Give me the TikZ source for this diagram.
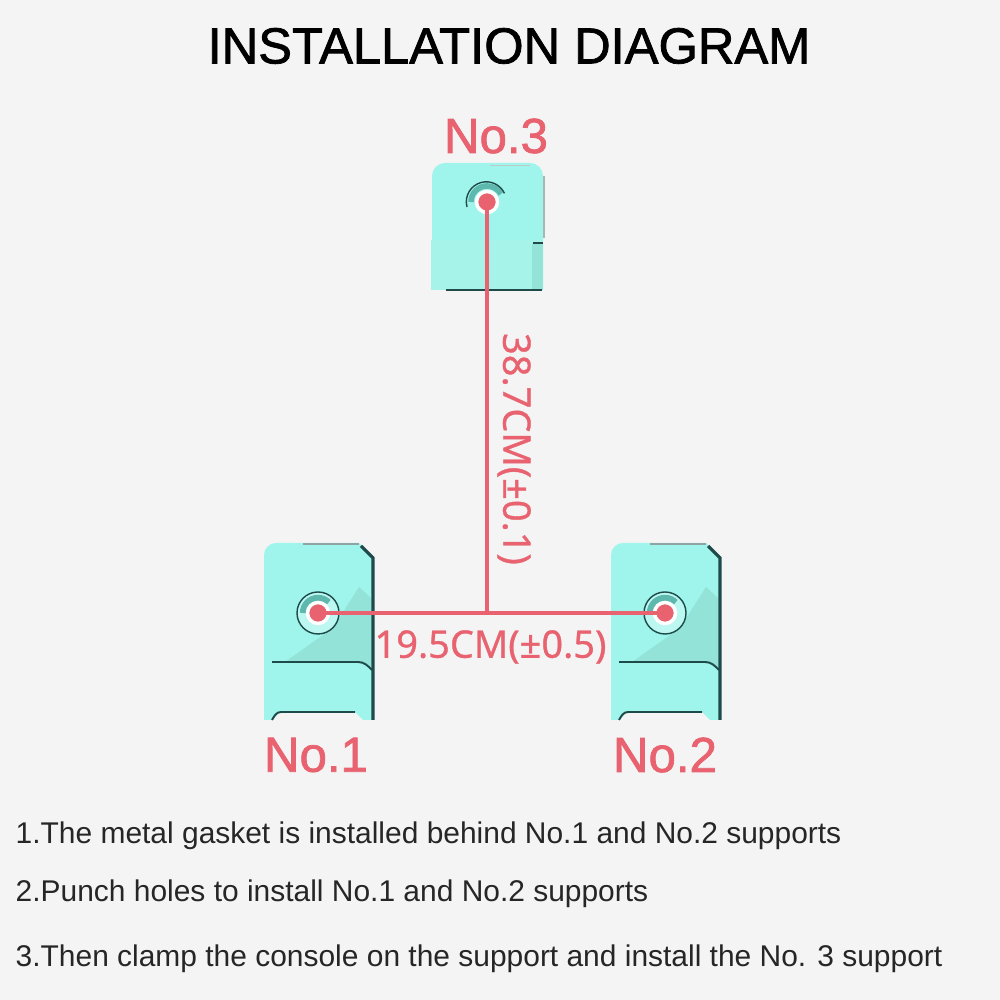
\documentclass[tikz,border=0pt]{standalone}
\usepackage{fontspec}
\setmainfont{Liberation Sans}
\newfontfamily\markfont[FakeBold=1.5]{Liberation Sans}
\newfontfamily\sizefont[FakeBold=0.8]{Noto Sans}
\usepackage{xcolor}
\usetikzlibrary{positioning, calc}

\definecolor{mintbody}{HTML}{9FF5EB}
\definecolor{mintpale}{HTML}{A6F3EA}
\definecolor{mintshade}{HTML}{93E3D8}
\definecolor{mintring}{HTML}{5FB8AE}
\definecolor{darkedge}{HTML}{1F4A4A}
\definecolor{pinkmark}{HTML}{E8626F}
\definecolor{paper}{HTML}{F4F4F4}

\tikzset{
    marklabel/.style={text=pinkmark, font=\markfont\fontsize{14pt}{16pt}\selectfont, inner sep=0pt},
    sizelabel/.style={text=pinkmark, font=\sizefont\fontsize{10.8pt}{12pt}\selectfont, inner sep=0pt},
    stepline/.style={anchor=west, font=\fontsize{8.52pt}{10pt}\selectfont, inner sep=0pt, text=black!85},
    holedot/.style={circle, fill=pinkmark, draw=white, line width=1pt, minimum size=2.1mm, inner sep=0pt},
    sizeline/.style={draw=pinkmark, line width=1.4pt},
    edgeline/.style={draw=darkedge, line width=0.55pt},
    ringline/.style={draw=darkedge, line width=0.4pt}
}

\begin{document}
\begin{tikzpicture}
\useasboundingbox (0,0) rectangle (10,10);
\fill[paper] (0,0) rectangle (10,10);

% Title
\node[inner sep=0pt, font=\markfont\fontsize{14.4pt}{16pt}\selectfont, text=black] (title) at (5.09,9.54) {INSTALLATION DIAGRAM};

% Upper support
\fill[mintbody] (4.32,7.1) -- (4.32,8.24) arc (180:90:0.13) -- (5.3,8.37) arc (90:0:0.13) -- (5.43,7.1) -- cycle;
\fill[mintpale] (4.31,7.1) rectangle (5.43,7.6);
\fill[mintshade] (5.32,7.1) rectangle (5.43,7.56);
\draw[edgeline] (5.33,7.57) -- (5.43,7.57);
\draw[edgeline] (4.46,7.1) -- (5.42,7.1);
\draw[darkedge!40, line width=0.3pt] (5.44,8.24) -- (5.44,7.62);
\draw[darkedge!30, line width=0.25pt] (4.9,8.35) -- (5.3,8.35);
\draw[mintring, line width=1.6pt] (4.71,7.98) arc (180:30:0.16);
\draw[ringline] (4.67,7.93) arc (195:25:0.2);

% Lower supports
\foreach \x in {2.63,6.1}{
    \begin{scope}[shift={(\x,0)}]
    \fill[mintbody] (0.01,2.8) -- (0.01,4.45) arc (180:90:0.12) -- (0.96,4.57) -- (1.1,4.44) -- (1.1,2.8)
        -- (1,2.8) -- (0.92,2.88) -- (0.17,2.88) -- (0.09,2.8) -- cycle;
    \fill[mintshade] (0.22,3.38) -- (0.7,3.72) -- (0.96,4.13) -- (1.08,4.02) -- (1.08,3.32) -- (0.95,3.38) -- cycle;
    \draw[edgeline] (0.09,3.38) -- (0.95,3.38) to[out=0,in=135] (1.09,3.3);
    \draw[edgeline, line width=0.9pt] (1.1,2.8) -- (1.1,4.42) -- (0.98,4.54);
    \draw[edgeline] (0.09,2.8) to[out=60,in=180] (0.18,2.88) -- (0.92,2.88);
    \draw[darkedge!50, line width=0.3pt] (0.4,4.56) -- (0.96,4.56);
    \end{scope}
}
\foreach \cx in {3.18,6.65}{
    \fill[mintbody!70!white] (\cx,3.87) circle (0.2);
    \draw[ringline] (\cx,3.87) circle (0.21);
    \draw[mintring, line width=1.8pt] (\cx-0.15,3.87) arc (180:45:0.15);
}

% Mark dots
\node[holedot] (hole3) at (4.87,7.98) {};
\node[holedot] (hole1) at (3.18,3.87) {};
\node[holedot] (hole2) at (6.65,3.87) {};
\coordinate (joint) at (hole3 |- hole1);

% Size lines
\draw[sizeline] (hole1.center) -- (hole2.center);
\draw[sizeline] (hole3.center) -- (joint);

% Labels
\node[marklabel] (no3) at (4.96,8.64) {No.3};
\node[marklabel] (no1) at (3.16,2.45) {No.1};
\node[marklabel] (no2) at (6.65,2.45) {No.2};
\node[sizelabel, rotate=-90] (lenv) at (5.14,5.51) {38.7CM(±0.1)};
\node[sizelabel] (lenh) at (4.905,3.53) {19.5CM(±0.5)};

% Steps
\node[stepline] (step1) at (0.15,1.64) {1.The metal gasket is installed behind No.1 and No.2 supports};
\node[stepline] (step2) at (0.15,1.06) {2.Punch holes to install No.1 and No.2 supports};
\node[stepline] (step3) at (0.15,0.41) {3.Then clamp the console on the support and install the No. 3 support};
\end{tikzpicture}
\end{document}
